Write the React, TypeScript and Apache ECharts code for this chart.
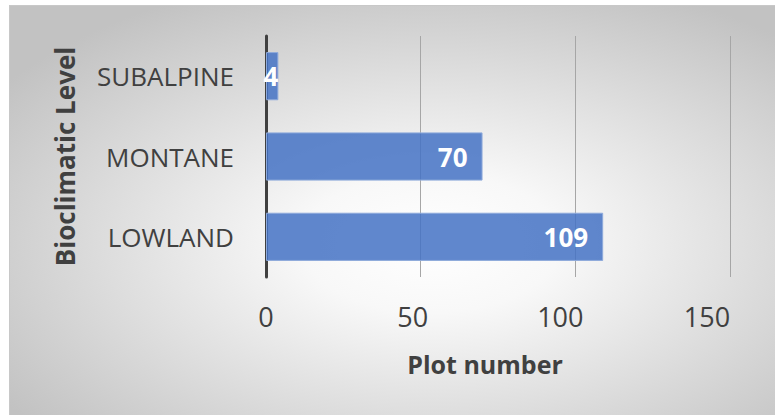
import React, { useEffect, useRef } from "react";
import * as echarts from "echarts";

const categories = ["LOWLAND", "MONTANE", "SUBALPINE"];
const plotNumbers = [109, 70, 4];
const xTicks = { min: 0, max: 150, interval: 50 };

const FONT = "'Open Sans', 'Noto Sans', sans-serif";

export default function App() {
  const ref = useRef<HTMLDivElement>(null);
  useEffect(() => {
    if (!ref.current) return;
    const chart = echarts.init(ref.current, undefined, { renderer: "svg" });
    const tickStyle = { color: "#404040", fontSize: 27, fontFamily: FONT };
    chart.setOption({
      animation: false,
      backgroundColor: new echarts.graphic.RadialGradient(0.55, 0.58, 0.68, [
        { offset: 0, color: "#ffffff" },
        { offset: 0.25, color: "#f8f8f8" },
        { offset: 1, color: "#c2c2c2" },
      ]),
      grid: { left: 256, right: 45, top: 30, bottom: 138 },
      xAxis: {
        type: "value",
        min: xTicks.min,
        max: xTicks.max,
        interval: xTicks.interval,
        axisLine: { show: false },
        axisTick: { show: false },
        splitLine: { lineStyle: { color: "#a6a6a6", width: 1 } },
        axisLabel: {
          ...tickStyle,
          margin: 26,
          formatter: (v: number) => `{t${Math.round(v / xTicks.interval)}|${v}}`,
          rich: {
            t0: { ...tickStyle },
            t1: { ...tickStyle, padding: [0, 16, 0, 0] },
            t2: { ...tickStyle, padding: [0, 30, 0, 0] },
            t3: { ...tickStyle, padding: [0, 46, 0, 0] },
          },
        },
        name: "Plot number",
        nameLocation: "middle",
        nameGap: 74,
        nameTextStyle: {
          color: "#404040",
          fontSize: 25,
          fontWeight: "bold",
          fontFamily: FONT,
          verticalAlign: "top",
          padding: [0, 26, 0, 0],
        },
      },
      yAxis: {
        type: "category",
        data: categories,
        axisLine: { show: true, lineStyle: { color: "#404040", width: 3 } },
        axisTick: { show: false },
        axisLabel: { color: "#404040", fontSize: 26, fontFamily: FONT, margin: 32 },
        name: "Bioclimatic Level",
        nameLocation: "middle",
        nameRotate: 90,
        nameGap: 188,
        nameTextStyle: { color: "#404040", fontSize: 26, fontWeight: "bold", fontFamily: FONT },
      },
      series: [
        {
          type: "bar",
          data: plotNumbers.map((v) => (v < 10 ? { value: v, label: { distance: 0 } } : v)),
          barWidth: "60%",
          itemStyle: { color: "rgba(68,114,196,0.85)", borderColor: "#8eaadb", borderWidth: 1 },
          z: 1,
          label: {
            show: true,
            position: "insideRight",
            distance: 15,
            color: "#ffffff",
            fontSize: 26,
            fontWeight: "bold",
            fontFamily: FONT,
          },
        },
      ],
    });
    return () => chart.dispose();
  }, []);
  return (
    <div style={{ position: "absolute", left: 0, top: 0, width: 775, height: 415, background: "#ffffff" }}>
      <div
        ref={ref}
        style={{
          position: "absolute",
          left: 9,
          top: 5,
          width: 766,
          height: 410,
          boxSizing: "border-box",
          borderLeft: "1px solid #c8c8c8",
          borderTop: "1px solid #c8c8c8",
        }}
      />
    </div>
  );
}
